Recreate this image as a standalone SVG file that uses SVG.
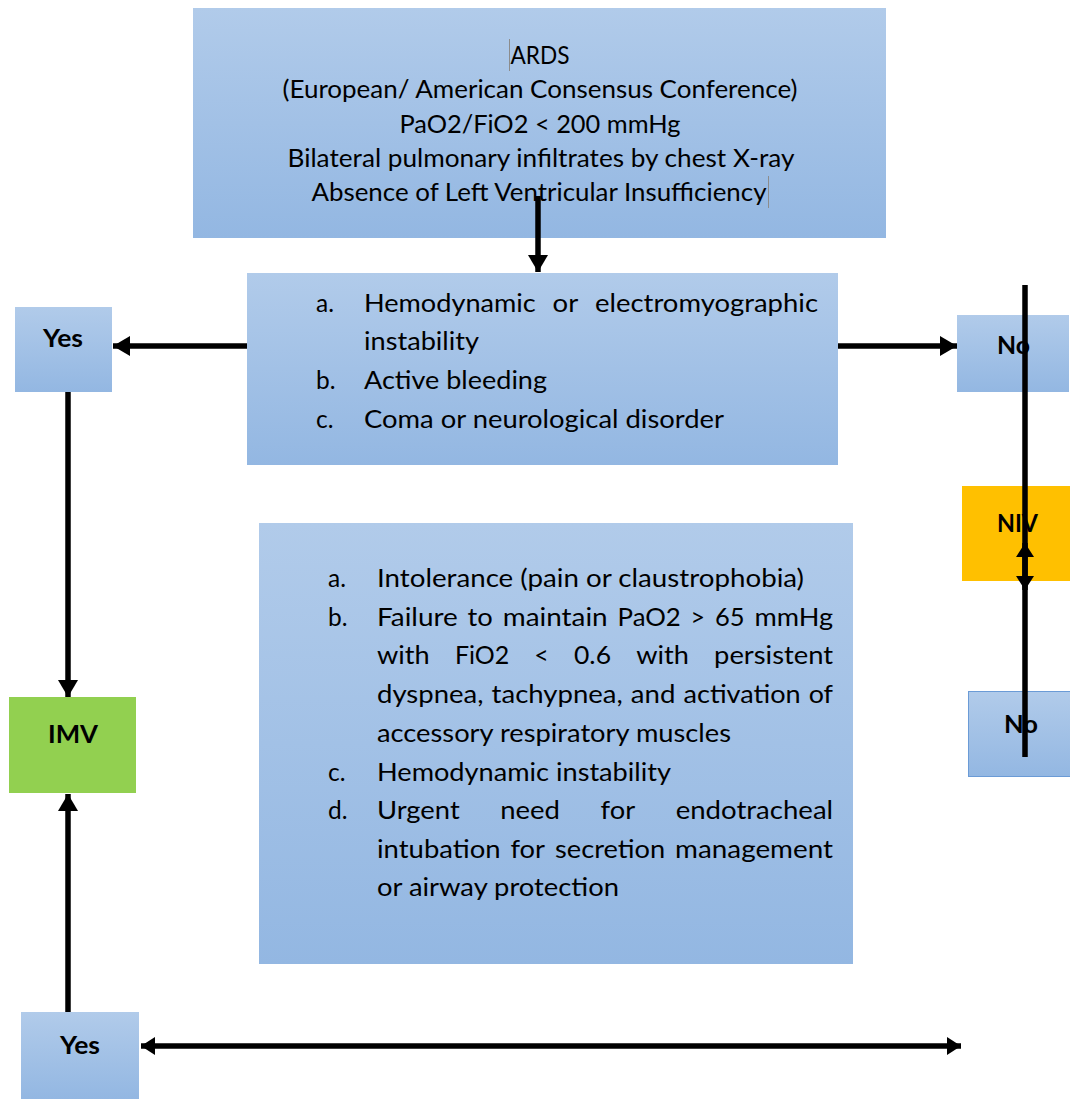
<svg xmlns="http://www.w3.org/2000/svg" width="1070" height="1099" viewBox="0 0 1070 1099">
<style>
.t{font-family:Lato,"Open Sans","Liberation Sans",sans-serif;font-size:24.5px;fill:#000}
.c{text-anchor:middle}
.b{font-family:Lato,"Open Sans","Liberation Sans",sans-serif;font-size:24px;font-weight:bold;fill:#000}
.blue{fill:url(#g)}
.ln{stroke:#000;stroke-width:5.5;fill:none}
.cur{stroke:#8c8c8c;stroke-width:1}
</style>
<defs>
<linearGradient id="g" x1="0" y1="0" x2="0" y2="1">
<stop offset="0" stop-color="#b1cbea"/>
<stop offset="1" stop-color="#93b7e2"/>
</linearGradient>
<marker id="ah" markerUnits="userSpaceOnUse" viewBox="0 0 17 20" refX="17" refY="10" markerWidth="17" markerHeight="20" orient="auto-start-reverse">
<path d="M0,0 L17,10 L0,20 Z" fill="#000"/>
</marker>
<marker id="ahs" markerUnits="userSpaceOnUse" viewBox="0 0 14 18" refX="14" refY="9" markerWidth="14" markerHeight="18" orient="auto-start-reverse">
<path d="M0,0 L14,9 L0,18 Z" fill="#000"/>
</marker>
</defs>

<g id="ards">
<rect class="blue" x="193" y="8" width="693" height="230"/>
<line class="cur" x1="509.5" y1="39" x2="509.5" y2="71"/>
<text class="t c" x="540" y="64" textLength="59" lengthAdjust="spacingAndGlyphs">ARDS</text>
<text class="t c" x="540" y="98" textLength="515" lengthAdjust="spacingAndGlyphs">(European/ American Consensus Conference)</text>
<text class="t c" x="540" y="133" textLength="281" lengthAdjust="spacingAndGlyphs">PaO2/FiO2 &lt; 200 mmHg</text>
<text class="t c" x="541" y="167" textLength="507" lengthAdjust="spacingAndGlyphs">Bilateral pulmonary infiltrates by chest X-ray</text>
<text class="t c" x="539" y="201" textLength="455" lengthAdjust="spacingAndGlyphs">Absence of Left Ventricular Insufficiency</text>
<line class="cur" x1="768.5" y1="176" x2="768.5" y2="208"/>
</g>

<g id="contra">
<rect class="blue" x="247" y="273" width="591" height="192"/>
<text class="t" x="316" y="312">a.</text>
<text class="t" x="364" y="312" textLength="171.7" lengthAdjust="spacingAndGlyphs">Hemodynamic</text>
<text class="t" x="552.6" y="312" textLength="25.6" lengthAdjust="spacingAndGlyphs">or</text>
<text class="t" x="595" y="312" textLength="223" lengthAdjust="spacingAndGlyphs">electromyographic</text>
<text class="t" x="364" y="350" textLength="115" lengthAdjust="spacingAndGlyphs">instability</text>
<text class="t" x="316" y="389">b.</text>
<text class="t" x="364" y="389" textLength="183" lengthAdjust="spacingAndGlyphs">Active bleeding</text>
<text class="t" x="316" y="428">c.</text>
<text class="t" x="364" y="428" textLength="360" lengthAdjust="spacingAndGlyphs">Coma or neurological disorder</text>
</g>

<g id="yes1">
<rect class="blue" x="15" y="307" width="97" height="85"/>
<text class="b" x="43" y="347" textLength="40" lengthAdjust="spacingAndGlyphs">Yes</text>
</g>

<g id="no1">
<rect class="blue" x="957" y="315" width="112" height="77"/>
<text class="b" x="997" y="354" textLength="33" lengthAdjust="spacingAndGlyphs">No</text>
</g>

<g id="niv">
<rect x="962" y="486" width="108" height="95" fill="#ffc000"/>
<text class="b" x="997" y="532" textLength="41" lengthAdjust="spacingAndGlyphs">NIV</text>
</g>

<g id="no2">
<rect class="blue" x="968.5" y="691.5" width="102" height="85" stroke="#6b9bd6" stroke-width="1"/>
<text class="b" x="1004" y="733" textLength="34" lengthAdjust="spacingAndGlyphs">No</text>
</g>

<g id="imv">
<rect x="9" y="697" width="127" height="96" fill="#92d050"/>
<text class="b" x="48" y="743" textLength="50" lengthAdjust="spacingAndGlyphs">IMV</text>
</g>

<g id="failure">
<rect class="blue" x="259" y="523" width="594" height="441"/>
<text class="t" x="328" y="587">a.</text>
<text class="t" x="377" y="587" textLength="427" lengthAdjust="spacingAndGlyphs">Intolerance (pain or claustrophobia)</text>
<text class="t" x="328" y="626">b.</text>
<text class="t" x="377" y="626" textLength="80.8" lengthAdjust="spacingAndGlyphs">Failure</text>
<text class="t" x="467.6" y="626" textLength="25.2" lengthAdjust="spacingAndGlyphs">to</text>
<text class="t" x="502.7" y="626" textLength="105" lengthAdjust="spacingAndGlyphs">maintain</text>
<text class="t" x="617.6" y="626" textLength="63.2" lengthAdjust="spacingAndGlyphs">PaO2</text>
<text class="t" x="690.6" y="626" textLength="14.5" lengthAdjust="spacingAndGlyphs">&gt;</text>
<text class="t" x="715" y="626" textLength="29.6" lengthAdjust="spacingAndGlyphs">65</text>
<text class="t" x="754.5" y="626" textLength="78.6" lengthAdjust="spacingAndGlyphs">mmHg</text>
<text class="t" x="377" y="664" textLength="52.7" lengthAdjust="spacingAndGlyphs">with</text>
<text class="t" x="454.9" y="664" textLength="54.2" lengthAdjust="spacingAndGlyphs">FiO2</text>
<text class="t" x="534.3" y="664" textLength="14.5" lengthAdjust="spacingAndGlyphs">&lt;</text>
<text class="t" x="574" y="664" textLength="37" lengthAdjust="spacingAndGlyphs">0.6</text>
<text class="t" x="636.2" y="664" textLength="52.7" lengthAdjust="spacingAndGlyphs">with</text>
<text class="t" x="714.1" y="664" textLength="119" lengthAdjust="spacingAndGlyphs">persistent</text>
<text class="t" x="377" y="703" textLength="106.5" lengthAdjust="spacingAndGlyphs">dyspnea,</text>
<text class="t" x="491.6" y="703" textLength="131.2" lengthAdjust="spacingAndGlyphs">tachypnea,</text>
<text class="t" x="630.8" y="703" textLength="44.6" lengthAdjust="spacingAndGlyphs">and</text>
<text class="t" x="683.5" y="703" textLength="117.2" lengthAdjust="spacingAndGlyphs">activation</text>
<text class="t" x="808.7" y="703" textLength="24.3" lengthAdjust="spacingAndGlyphs">of</text>
<text class="t" x="377" y="742" textLength="354" lengthAdjust="spacingAndGlyphs">accessory respiratory muscles</text>
<text class="t" x="328" y="781">c.</text>
<text class="t" x="377" y="781" textLength="294" lengthAdjust="spacingAndGlyphs">Hemodynamic instability</text>
<text class="t" x="328" y="819">d.</text>
<text class="t" x="377" y="819" textLength="82.7" lengthAdjust="spacingAndGlyphs">Urgent</text>
<text class="t" x="500.3" y="819" textLength="59.7" lengthAdjust="spacingAndGlyphs">need</text>
<text class="t" x="600.6" y="819" textLength="34.5" lengthAdjust="spacingAndGlyphs">for</text>
<text class="t" x="675.7" y="819" textLength="157.4" lengthAdjust="spacingAndGlyphs">endotracheal</text>
<text class="t" x="377" y="858" textLength="123.6" lengthAdjust="spacingAndGlyphs">intubation</text>
<text class="t" x="510.5" y="858" textLength="34.5" lengthAdjust="spacingAndGlyphs">for</text>
<text class="t" x="555" y="858" textLength="110.2" lengthAdjust="spacingAndGlyphs">secretion</text>
<text class="t" x="675.1" y="858" textLength="157.9" lengthAdjust="spacingAndGlyphs">management</text>
<text class="t" x="377" y="896" textLength="242" lengthAdjust="spacingAndGlyphs">or airway protection</text>
</g>

<g id="yes2">
<rect class="blue" x="21" y="1012" width="118" height="87"/>
<text class="b" x="60" y="1054" textLength="40" lengthAdjust="spacingAndGlyphs">Yes</text>
</g>

<g id="connectors">
<line class="ln" x1="538" y1="196" x2="538" y2="272" marker-end="url(#ah)"/>
<line class="ln" x1="247" y1="346" x2="113" y2="346" marker-end="url(#ah)"/>
<line class="ln" x1="838" y1="346" x2="957" y2="346" marker-end="url(#ah)"/>
<line class="ln" x1="68" y1="392" x2="68" y2="697" marker-end="url(#ah)"/>
<line class="ln" x1="68" y1="1012" x2="68" y2="794" marker-end="url(#ah)"/>
<line class="ln" x1="1025" y1="285" x2="1025" y2="590" marker-end="url(#ahs)"/>
<line class="ln" x1="1025" y1="757" x2="1025" y2="543" marker-end="url(#ahs)"/>
<line class="ln" x1="141" y1="1046" x2="961" y2="1046" marker-start="url(#ahs)" marker-end="url(#ahs)"/>
</g>
</svg>
